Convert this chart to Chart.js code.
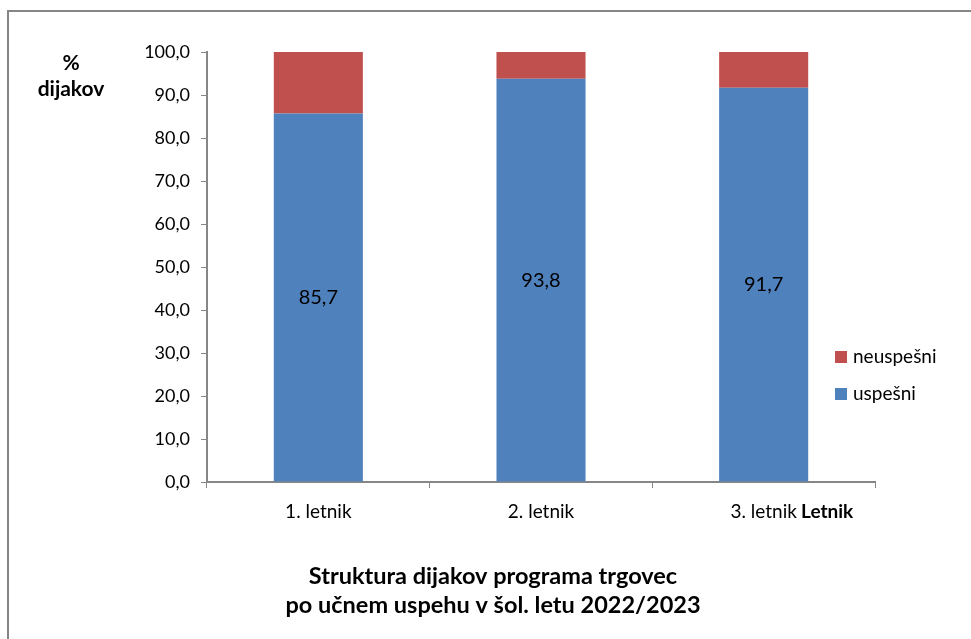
<!DOCTYPE html>
<html>
<head>
<meta charset="utf-8">
<script src="https://cdn.jsdelivr.net/npm/chart.js@4"></script>
<style>
  html, body { margin: 0; padding: 0; background: #fff; }
  #wrap { width: 971px; height: 639px; position: relative; }
</style>
</head>
<body>
<div id="wrap"><canvas id="chartLetnik" width="971" height="639"></canvas></div>
<script>
// podatki
var letniki = ['1. letnik', '2. letnik', '3. letnik'];
var uspesni = [85.7, 93.8, 91.7];
var neuspesni = [14.3, 6.2, 8.3];
var yTicks = [0, 10, 20, 30, 40, 50, 60, 70, 80, 90, 100];

var naslov = ['Struktura dijakov programa trgovec', 'po učnem uspehu v šol. letu 2022/2023'];
var yNaslov = ['%', 'dijakov'];
var xNaslov = 'Letnik';

var FONT = "Lato, 'Open Sans', sans-serif";
var GRAY = '#868686';

function vejica(v) {
  return v.toFixed(1).replace('.', ',');
}

// okvir, naslovi, legenda in oznake
var dodatki = {
  id: 'dodatki',
  afterDraw: function (chart) {
    var ctx = chart.ctx;
    ctx.save();

    // okvir
    ctx.strokeStyle = GRAY;
    ctx.lineWidth = 2;
    ctx.beginPath();
    ctx.moveTo(8, 639);
    ctx.lineTo(8, 11);
    ctx.lineTo(971, 11);
    ctx.stroke();

    // oznake v modrih stolpcih
    var meta = chart.getDatasetMeta(0);
    ctx.fillStyle = '#000';
    ctx.font = '20px ' + FONT;
    ctx.textAlign = 'center';
    ctx.textBaseline = 'middle';
    meta.data.forEach(function (bar, i) {
      ctx.fillText(vejica(uspesni[i]), bar.x, (bar.y + bar.base) / 2);
    });

    // naslov osi y
    ctx.font = 'bold 21px ' + FONT;
    ctx.fillText(yNaslov[0], 71, 63);
    ctx.fillText(yNaslov[1], 71, 89);

    // naslov osi x
    ctx.textAlign = 'left';
    ctx.font = 'bold 19px ' + FONT;
    ctx.fillText(xNaslov, 801, 512);

    // legenda
    var ds = chart.data.datasets;
    var vrstni = [1, 0];
    ctx.font = '19px ' + FONT;
    vrstni.forEach(function (d, k) {
      var y = 357 + k * 37;
      ctx.fillStyle = ds[d].backgroundColor;
      ctx.fillRect(835, y - 6, 12, 12);
      ctx.fillStyle = '#000';
      ctx.fillText(ds[d].label, 853, y);
    });

    // glavni naslov
    ctx.textAlign = 'center';
    ctx.font = 'bold 23.5px ' + FONT;
    ctx.fillText(naslov[0], 493, 576);
    ctx.fillText(naslov[1], 493, 605);

    ctx.restore();
  }
};

var myChart = new Chart(document.getElementById('chartLetnik'), {
  type: 'bar',
  data: {
    labels: letniki,
    datasets: [
      {
        label: 'uspešni',
        data: uspesni,
        backgroundColor: '#4F81BD',
        categoryPercentage: 1,
        barPercentage: 0.4
      },
      {
        label: 'neuspešni',
        data: neuspesni,
        backgroundColor: '#C0504D',
        categoryPercentage: 1,
        barPercentage: 0.4
      }
    ]
  },
  options: {
    responsive: false,
    animation: false,
    layout: {
      padding: { left: 107, top: 52, right: 96, bottom: 117 }
    },
    plugins: {
      legend: { display: false },
      tooltip: { enabled: false },
      title: { display: false }
    },
    scales: {
      x: {
        stacked: true,
        afterFit: function (scale) { scale.height = 40; },
        grid: {
          offset: true,
          drawOnChartArea: false,
          color: GRAY,
          tickLength: 6
        },
        border: { color: GRAY, width: 2 },
        ticks: {
          color: '#000',
          font: { family: FONT, size: 19 },
          padding: 12
        }
      },
      y: {
        stacked: true,
        min: 0,
        max: 100,
        afterFit: function (scale) { scale.width = 100; },
        afterBuildTicks: function (scale) {
          scale.ticks = yTicks.map(function (v) { return { value: v }; });
        },
        grid: {
          drawOnChartArea: false,
          color: GRAY,
          tickLength: 6
        },
        border: { color: GRAY, width: 2 },
        ticks: {
          color: '#000',
          font: { family: FONT, size: 18 },
          padding: 11,
          callback: function (v) { return vejica(v); }
        }
      }
    }
  },
  plugins: [dodatki]
});
</script>
</body>
</html>
